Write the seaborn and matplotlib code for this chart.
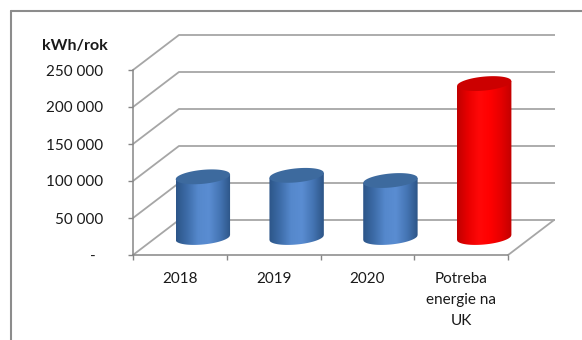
import numpy as np
import pandas as pd
import matplotlib
matplotlib.use("Agg")
import matplotlib.pyplot as plt
import seaborn as sns
from matplotlib.patches import Polygon
from matplotlib.lines import Line2D
from matplotlib.colors import LinearSegmentedColormap

# ---------------- data ----------------
categories = ["2018", "2019", "2020", "Potreba\nenergie na\nUK"]
values = [82000, 84000, 77000, 208000]
y_ticks = [0, 50000, 100000, 150000, 200000, 250000]
y_tick_labels = ["-  ", "50 000", "100 000", "150 000", "200 000", "250 000"]
y_title = "kWh/rok"

# ---------------- style ----------------
body_colors = {
    "blue": ["#2c5588", "#3d6ca8", "#5588cc", "#5a8dd2", "#4575b4", "#2c5486"],
    "red": ["#c00000", "#e80000", "#ff0808", "#ff0000", "#e60000", "#c20000"],
}
top_colors = {"blue": "#3d6a9e", "red": "#cc0000"}
bar_kind = ["blue", "blue", "blue", "red"]
grid_color = "#a6a6a6"
axis_color = "#868686"

sns.set_theme(style="white")
plt.rcParams["font.family"] = ["Lato", "DejaVu Sans"]

W, H = 582, 340
DPI = 100
fig = plt.figure(figsize=(W / DPI, H / DPI), dpi=DPI)
fig.patch.set_facecolor("white")

# plot area (pixels): left 133, right 555, top 35, bottom 255
ax = fig.add_axes([133 / W, (H - 255) / H, (555 - 133) / W, (255 - 35) / H])
ax.set_facecolor("none")

df = pd.DataFrame({"cat": categories, "val": values})
sns.barplot(data=df, x="cat", y="val", hue="cat", palette=["#4f81bd"] * 4,
            width=0.58, legend=False, ax=ax, saturation=1)

XMIN, XMAX = -0.5, 4.0
YMAX = 250000 * 220 / 185
ax.set_xlim(XMIN, XMAX)
ax.set_ylim(0, YMAX)

DX = 0.49                 # depth offset in x (category units)
DY = 250000 * 35 / 185    # depth offset in y (value units)

px_per_x = (555 - 133) / (XMAX - XMIN)
px_per_y = 185 / 250000

# back wall / side wall gridlines
for t in y_ticks:
    ax.plot([XMIN, XMIN + DX, XMAX], [t, t + DY, t + DY], color=grid_color,
            lw=1.3, clip_on=False, zorder=1, solid_capstyle="butt")
ax.plot([3.5, 3.5 + DX], [0, DY], color=grid_color, lw=1.3, clip_on=False, zorder=1)

B_PX = 7.0        # half-height of cylinder ellipse (px)
TILT = 0.09       # px rise per px to the right

patches = sorted(ax.patches, key=lambda p: p.get_x())
for i, p in enumerate(patches):
    kind = bar_kind[i]
    w = p.get_width()
    h = p.get_height()
    x0 = p.get_x() + DX / 2
    y0 = DY / 2
    p.set_x(x0)
    p.set_y(y0)
    p.set_facecolor("none")
    p.set_edgecolor("none")
    cx = x0 + w / 2
    a_px = w * px_per_x / 2
    u = np.linspace(-1, 1, 121)
    xs = cx + u * w / 2
    shear = TILT * u * a_px / px_per_y
    half = B_PX * np.sqrt(np.clip(1 - u ** 2, 0, 1)) / px_per_y
    ytop = y0 + h

    # body outline: lower half of bottom ellipse, right side, top centre line, left side
    bottom_curve = np.column_stack([xs, y0 + shear - half])
    top_line = np.column_stack([xs[::-1], (ytop + shear)[::-1]])
    body = Polygon(np.vstack([bottom_curve, top_line]), closed=True,
                   facecolor="none", edgecolor="none")
    ax.add_patch(body)
    cmap = LinearSegmentedColormap.from_list(kind, body_colors[kind])
    grad = np.linspace(0, 1, 256).reshape(1, -1)
    im = ax.imshow(grad, extent=[x0, x0 + w, y0 - 20000, ytop + 20000],
                   aspect="auto", cmap=cmap, zorder=3, interpolation="bilinear")
    im.set_clip_path(body)

    # top cap
    cap_pts = np.vstack([
        np.column_stack([xs, ytop + shear + half]),
        np.column_stack([xs[::-1], (ytop + shear - half)[::-1]]),
    ])
    ax.add_patch(Polygon(cap_pts, closed=True, facecolor=top_colors[kind],
                         edgecolor="none", zorder=4))

ax.set_xlim(XMIN, XMAX)
ax.set_ylim(0, YMAX)

# axes / spines
for s in ["top", "right"]:
    ax.spines[s].set_visible(False)
for s in ["left", "bottom"]:
    ax.spines[s].set_color(axis_color)
    ax.spines[s].set_linewidth(1.1)
ax.spines["left"].set_bounds(0, 250000)
ax.spines["bottom"].set_bounds(-0.5, 3.5)

ax.set_yticks(y_ticks)
ax.set_yticklabels(y_tick_labels)
ax.set_xticks(range(len(categories)))
ax.set_xticklabels(categories)
ax.set_xticks([-0.5, 0.5, 1.5, 2.5, 3.5], minor=True)
ax.tick_params(axis="y", left=True, length=3.6, width=1, color=axis_color,
               pad=18, labelsize=11, labelcolor="#1a1a1a", direction="out")
ax.tick_params(axis="x", which="major", bottom=True, length=0, pad=12.5,
               labelsize=11, labelcolor="#1a1a1a")
ax.tick_params(axis="x", which="minor", bottom=True, length=3.6, width=1,
               color=axis_color, direction="out")
for lab in ax.get_xticklabels():
    lab.set_linespacing(1.62)
ax.set_xlabel("")
ax.set_ylabel("")

fig.text(108 / W, 1 - 46 / H, y_title, ha="right", va="center",
         fontweight="bold", fontsize=11.5, color="#1a1a1a")

# chart frame (top and left edges visible)
fig.add_artist(Line2D([11 / W, 1.0], [1 - 11 / H, 1 - 11 / H], color="#8c8c8c",
                      lw=1.5, transform=fig.transFigure))
fig.add_artist(Line2D([11 / W, 11 / W], [1 - 11 / H, 0], color="#8c8c8c",
                      lw=1.5, transform=fig.transFigure))

fig.savefig("out.png", dpi=DPI)
